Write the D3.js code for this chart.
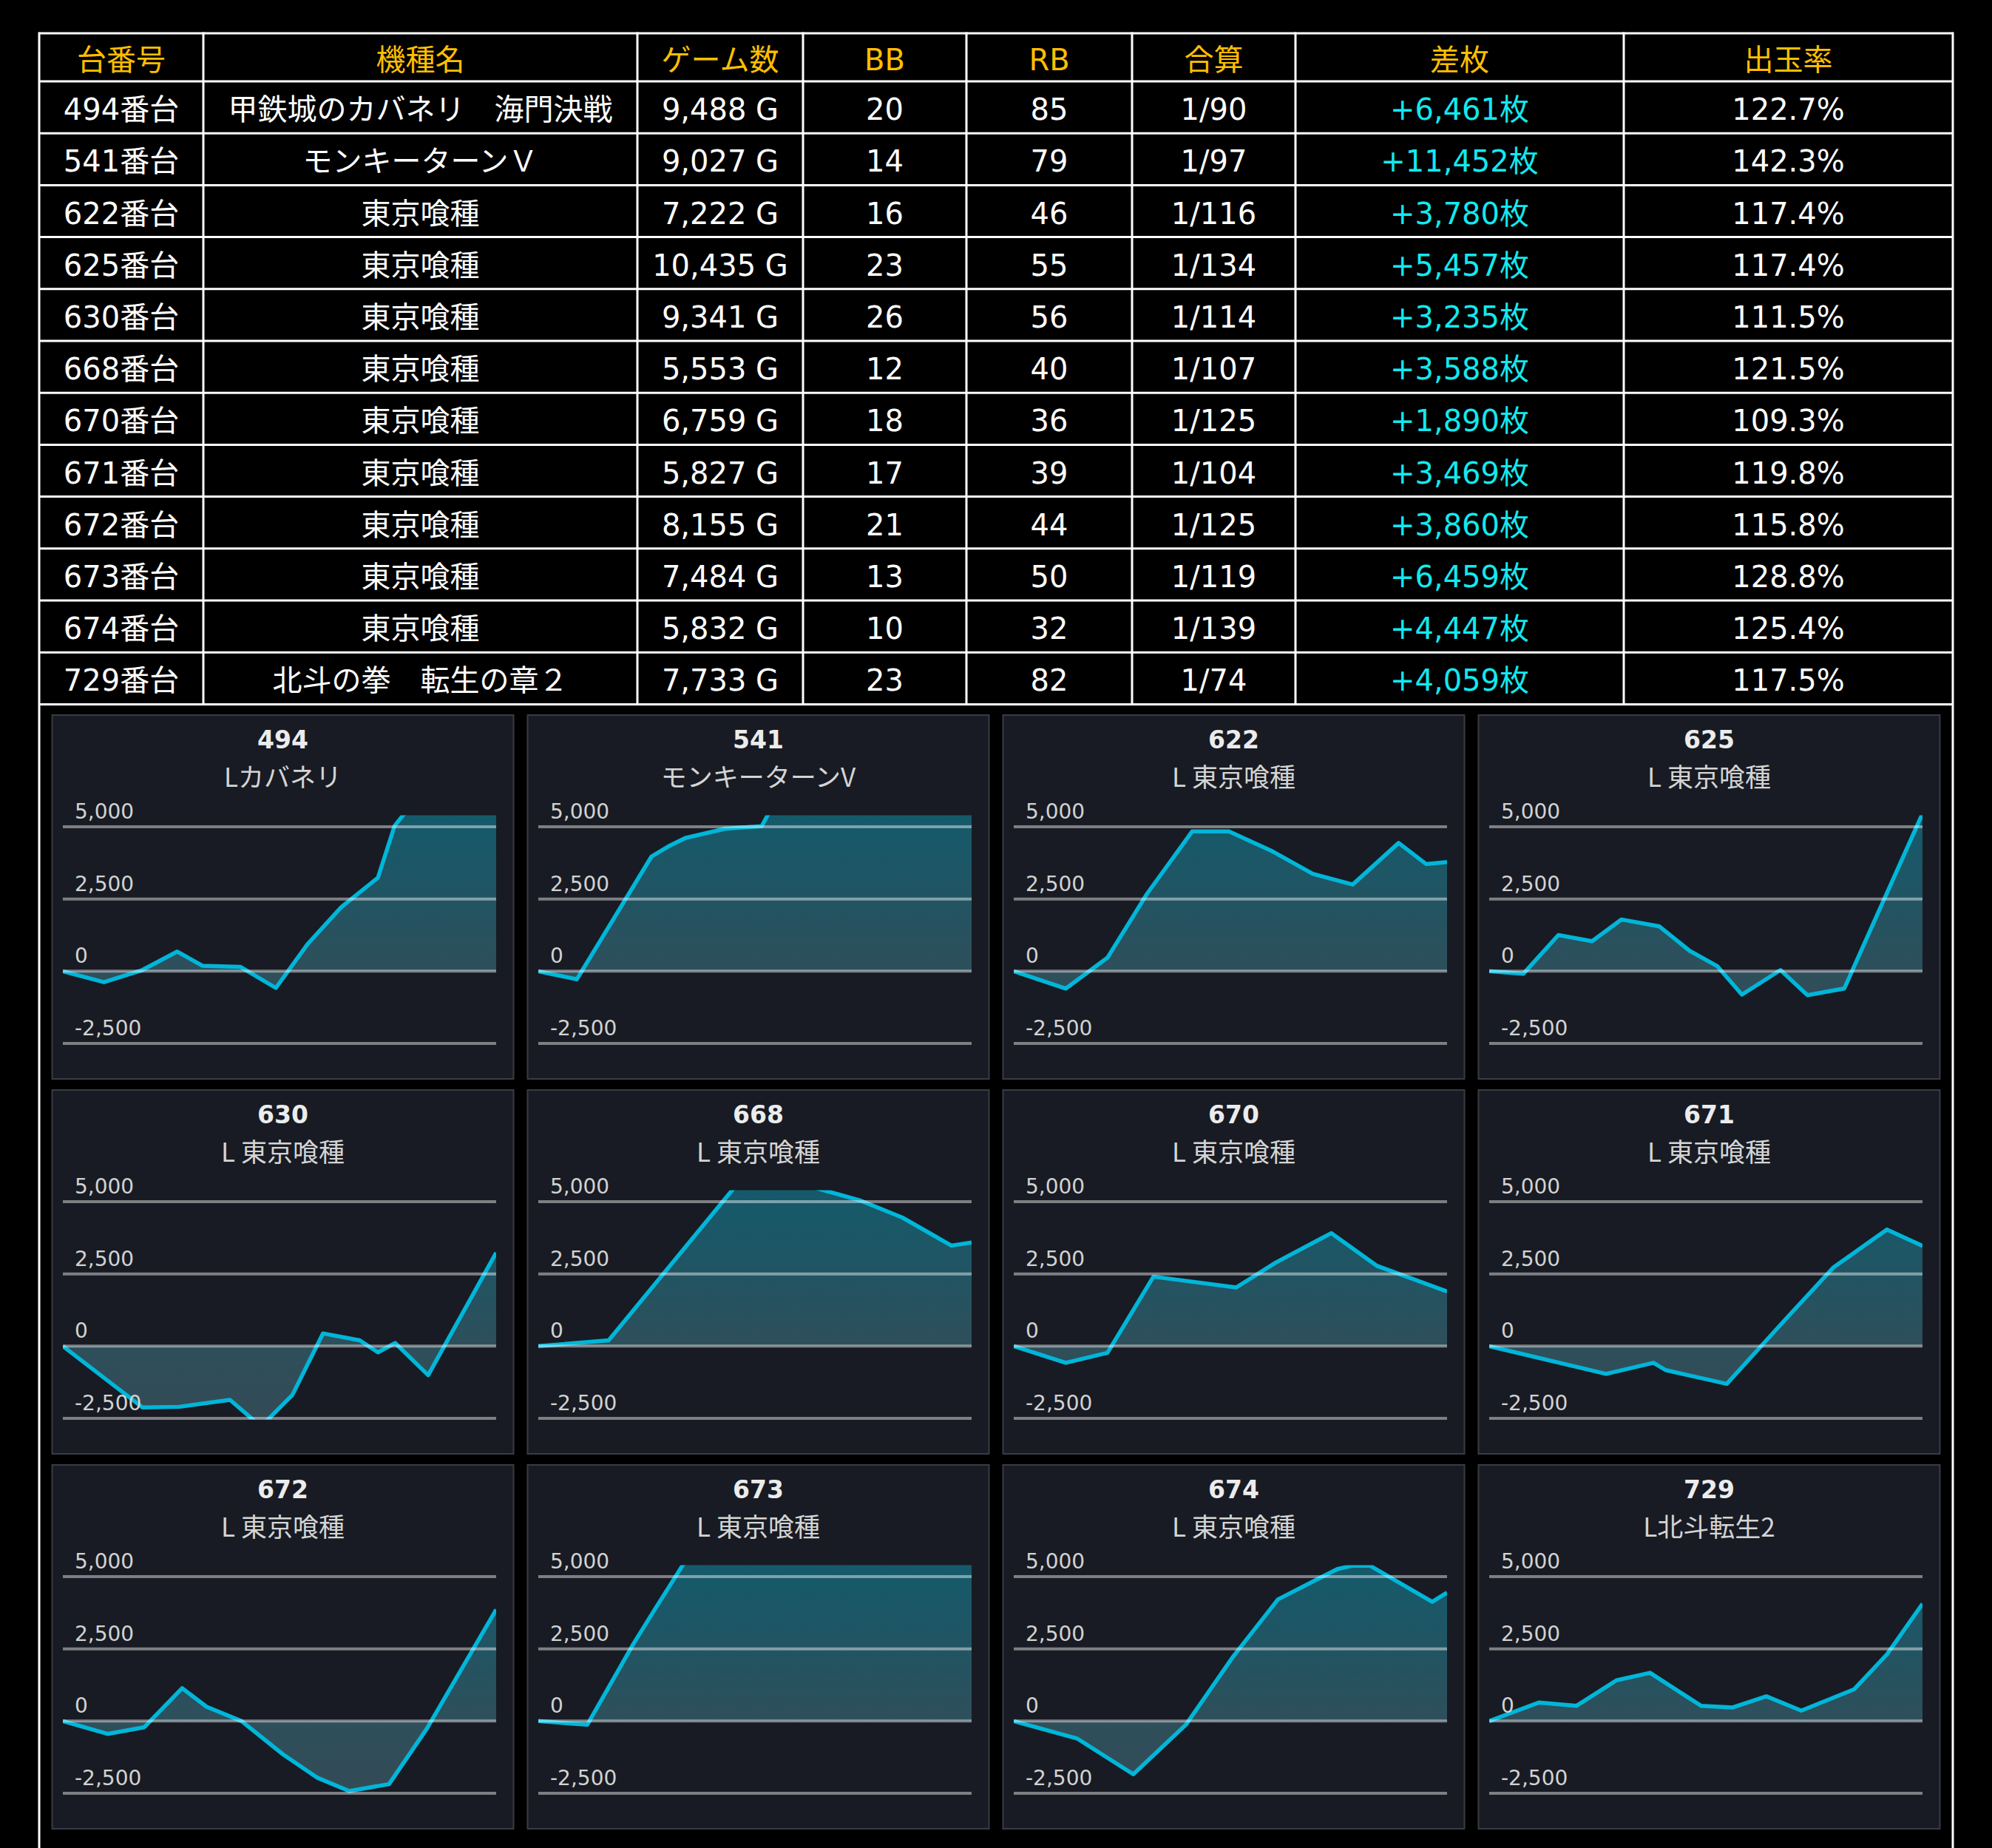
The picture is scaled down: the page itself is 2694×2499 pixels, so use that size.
<!DOCTYPE html>
<html>
<head>
<meta charset="utf-8">
<script src="https://cdn.jsdelivr.net/npm/d3@7"></script>
<style>
  body { margin: 0; background: #000; }
  svg { display: block; }
</style>
</head>
<body>
<div id="chart"></div>
<script>
// canevas
const width = 2694, height = 2499;

// --- données du tableau ---
const headers = ["台番号", "機種名", "ゲーム数", "BB", "RB", "合算", "差枚", "出玉率"];
const unitNos = ["494番台", "541番台", "622番台", "625番台", "630番台", "668番台",
                 "670番台", "671番台", "672番台", "673番台", "674番台", "729番台"];
const machineNames = ["甲鉄城のカバネリ　海門決戦", "モンキーターンＶ", "東京喰種", "東京喰種",
                      "東京喰種", "東京喰種", "東京喰種", "東京喰種", "東京喰種", "東京喰種",
                      "東京喰種", "北斗の拳　転生の章２"];
const gameCounts = [9488, 9027, 7222, 10435, 9341, 5553, 6759, 5827, 8155, 7484, 5832, 7733];
const bbCounts = [20, 14, 16, 23, 26, 12, 18, 17, 21, 13, 10, 23];
const rbCounts = [85, 79, 46, 55, 56, 40, 36, 39, 44, 50, 32, 82];
const combined = ["1/90", "1/97", "1/116", "1/134", "1/114", "1/107", "1/125", "1/104",
                  "1/125", "1/119", "1/139", "1/74"];
const diffCoins = [6461, 11452, 3780, 5457, 3235, 3588, 1890, 3469, 3860, 6459, 4447, 4059];
const payoutRates = [122.7, 142.3, 117.4, 117.4, 111.5, 121.5, 109.3, 119.8, 115.8, 128.8, 125.4, 117.5];

// --- données des graphiques (ゲーム数, 差枚) ---
const panelIds = ["494", "541", "622", "625", "630", "668", "670", "671", "672", "673", "674", "729"];
const panelNames = ["Lカバネリ", "モンキーターンV", "L 東京喰種", "L 東京喰種", "L 東京喰種", "L 東京喰種",
                    "L 東京喰種", "L 東京喰種", "L 東京喰種", "L 東京喰種", "L 東京喰種", "L北斗転生2"];
const s494 = [[0,0],[900,-380],[1740,40],[2505,680],[3055,190],[3886,150],[4664,-580],[5360,940],
              [6098,2220],[6900,3240],[7264,5030],[7700,5900],[9488,6461]];
const s541 = [[0,0],[803,-280],[2358,3970],[2741,4350],[3062,4610],[3888,4930],[4654,5020],
              [5300,7000],[9027,11452]];
const s622 = [[0,0],[868,-600],[1563,470],[2225,2690],[2973,4840],[3586,4840],[4320,4140],
              [4983,3370],[5649,3000],[6415,4440],[6873,3710],[7222,3780]];
const s625 = [[0,0],[825,-85],[1665,1250],[2478,1040],[3183,1790],[4100,1550],[4833,700],
              [5497,170],[6086,-810],[7015,40],[7664,-830],[8550,-600],[10435,5457]];
const s630 = [[0,0],[1715,-2120],[2507,-2100],[3603,-1860],[4272,-2780],[4948,-1690],[5607,440],
              [6400,200],[6793,-215],[7163,110],[7875,-1005],[9341,3235]];
const s668 = [[0,0],[902,200],[2588,5740],[3254,5700],[4118,5050],[4666,4450],[5294,3480],[5553,3588]];
const s670 = [[0,0],[812,-575],[1462,-230],[2179,2405],[3470,2030],[4091,2900],[4952,3910],
              [5669,2775],[6759,1890]];
const s671 = [[0,0],[1572,-960],[2209,-575],[2373,-830],[3195,-1306],[4015,1014],[4632,2730],
              [5349,4037],[5827,3469]];
const s672 = [[0,0],[841,-445],[1532,-214],[2245,1138],[2705,496],[3362,0],[4146,-1156],
              [4779,-1952],[5390,-2422],[6139,-2183],[6853,-257],[8155,3860]];
const s673 = [[0,0],[846,-128],[1638,2654],[2008,3852],[2695,6030],[7484,6459]];
const s674 = [[0,0],[850,-600],[1609,-1840],[2317,-128],[2951,2226],[3556,4211],[4357,5264],
              [4562,5380],[4794,5380],[5633,4126],[5832,4447]];
const s729 = [[0,0],[885,640],[1560,530],[2271,1410],[2870,1670],[3779,530],[4347,470],
              [4946,856],[5570,360],[6510,1096],[7099,2311],[7733,4059]];
const panelSeries = [s494, s541, s622, s625, s630, s668, s670, s671, s672, s673, s674, s729];
const yTicks = [5000, 2500, 0, -2500];

const fmt = d3.format(",");
// trait d'union simple comme dans l'original
const tickFmt = d => fmt(d).replace("\u2212", "-");

const svg = d3.select("#chart").append("svg")
    .attr("width", width)
    .attr("height", height);

svg.append("rect").attr("width", width).attr("height", height).attr("fill", "#000");

// --- tableau ---
const colX = [53, 275, 862, 1086, 1307, 1531, 1752, 2196, 2641];
const tableTop = 45, headerBottom = 110, rowH = 70.2;
const tableBottom = headerBottom + rowH * unitNos.length;
const tableFont = "'DejaVu Sans', 'Noto Sans CJK JP', sans-serif";

const rows = unitNos.map((u, i) => [
  u, machineNames[i], fmt(gameCounts[i]) + " G", bbCounts[i], rbCounts[i],
  combined[i], "+" + fmt(diffCoins[i]) + "枚", d3.format(".1f")(payoutRates[i]) + "%"
]);

const table = svg.append("g");
const colCenter = i => (colX[i] + colX[i + 1]) / 2;

table.selectAll("text.head")
  .data(headers)
  .join("text")
    .attr("x", (d, i) => colCenter(i))
    .attr("y", (tableTop + headerBottom) / 2 + 3)
    .attr("text-anchor", "middle")
    .attr("dominant-baseline", "central")
    .attr("font-family", tableFont)
    .attr("font-size", 40)
    .attr("fill", "#ffbf00")
    .text(d => d);

rows.forEach((row, r) => {
  table.selectAll("text.r" + r)
    .data(row)
    .join("text")
      .attr("x", (d, i) => colCenter(i))
      .attr("y", headerBottom + rowH * r + rowH / 2 + 3)
      .attr("text-anchor", "middle")
      .attr("dominant-baseline", "central")
      .attr("font-family", tableFont)
      .attr("font-size", 40)
      .attr("fill", (d, i) => i === 6 ? "#12e9ef" : "#fff")
      .text(d => d);
});

// lignes du tableau
const hLines = [tableTop, headerBottom].concat(d3.range(1, unitNos.length + 1).map(k => headerBottom + rowH * k));
table.selectAll("line.h")
  .data(hLines)
  .join("line")
    .attr("x1", colX[0]).attr("x2", colX[colX.length - 1])
    .attr("y1", d => d).attr("y2", d => d)
    .attr("stroke", "#fff").attr("stroke-width", 3);
table.selectAll("line.v")
  .data(colX)
  .join("line")
    .attr("x1", d => d).attr("x2", d => d)
    .attr("y1", tableTop - 1.5)
    .attr("y2", (d, i) => (i === 0 || i === colX.length - 1) ? height : tableBottom)
    .attr("stroke", "#fff").attr("stroke-width", 3);

// --- graphiques ---
const defs = svg.append("defs");
const pw = 624, ph = 492;
const x0 = 14.5, x1 = 600.5;
const y = d3.scaleLinear().domain([-2500, 5400]).range([444, 135.4]);

const grad = defs.append("linearGradient")
    .attr("id", "areaGrad")
    .attr("gradientUnits", "userSpaceOnUse")
    .attr("x1", 0).attr("x2", 0)
    .attr("y1", y(5400)).attr("y2", y(-2500));
grad.append("stop").attr("offset", 0).attr("stop-color", "#145a6b");
grad.append("stop").attr("offset", 0.68).attr("stop-color", "#2e4f5b");
grad.append("stop").attr("offset", 1).attr("stop-color", "#334b56");

defs.append("clipPath").attr("id", "plotClip")
  .append("rect")
    .attr("x", x0).attr("y", y(5400))
    .attr("width", x1 - x0).attr("height", y(-2530) - y(5400));

panelSeries.forEach((data, i) => {
  const c = i % 4, r = Math.floor(i / 4);
  const g = svg.append("g").attr("transform", `translate(${70.5 + c * 643},${967 + r * 507})`);

  g.append("rect")
    .attr("width", pw).attr("height", ph)
    .attr("fill", "#181b23")
    .attr("stroke", "#3a3c44").attr("stroke-width", 2);

  g.append("text")
    .attr("x", pw / 2).attr("y", 33)
    .attr("text-anchor", "middle").attr("dominant-baseline", "central")
    .attr("font-family", "'DejaVu Sans', sans-serif").attr("font-weight", "bold")
    .attr("font-size", 33).attr("fill", "#ececec")
    .text(panelIds[i]);

  g.append("text")
    .attr("x", pw / 2).attr("y", 81)
    .attr("text-anchor", "middle").attr("dominant-baseline", "central")
    .attr("font-family", "'Noto Sans CJK JP', sans-serif")
    .attr("font-size", 35).attr("fill", "#d4d4d4")
    .text(panelNames[i]);

  const x = d3.scaleLinear().domain([0, gameCounts[i]]).range([x0, x1]);

  const plot = g.append("g").attr("clip-path", "url(#plotClip)");

  const area = d3.area()
      .x(d => x(d[0]))
      .y0(y(0))
      .y1(d => y(d[1]));
  plot.append("path")
    .datum(data)
    .attr("d", area)
    .attr("fill", "url(#areaGrad)");

  // grille
  g.selectAll("line.grid")
    .data(yTicks)
    .join("line")
      .attr("x1", x0).attr("x2", x1)
      .attr("y1", d => y(d)).attr("y2", d => y(d))
      .attr("stroke", "rgba(255,255,255,0.44)")
      .attr("stroke-width", 4);

  g.selectAll("text.tick")
    .data(yTicks)
    .join("text")
      .attr("x", 30.5)
      .attr("y", d => y(d) - 11)
      .attr("font-family", "'DejaVu Sans', sans-serif")
      .attr("font-size", 28)
      .attr("fill", "#d2d2d2")
      .text(tickFmt);

  const line = d3.line()
      .x(d => x(d[0]))
      .y(d => y(d[1]));
  plot.append("path")
    .datum(data)
    .attr("d", line)
    .attr("fill", "none")
    .attr("stroke", "#00b6d9")
    .attr("stroke-width", 5.5)
    .attr("stroke-linejoin", "round");
});
</script>
</body>
</html>
